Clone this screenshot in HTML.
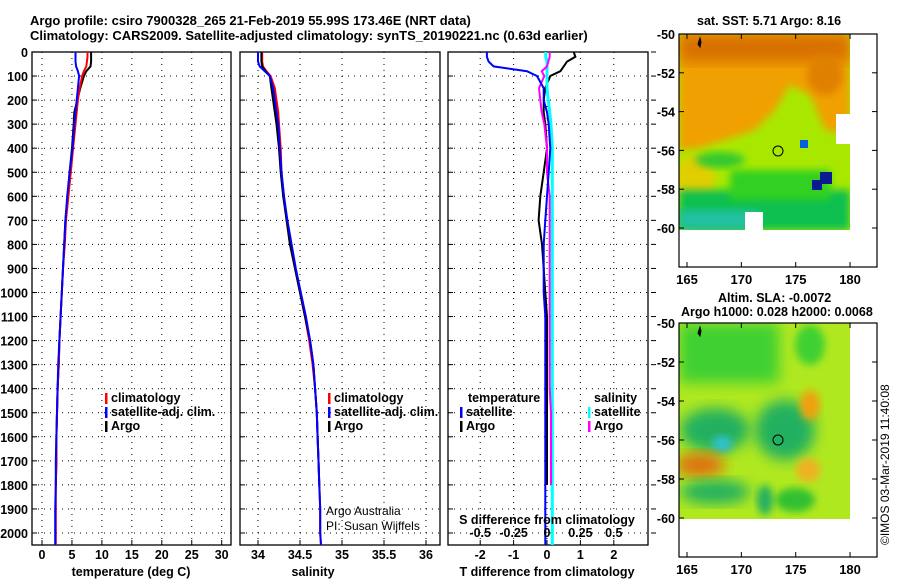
<!DOCTYPE html>
<html><head><meta charset="utf-8"><style>
body{margin:0;background:#fff;width:900px;height:580px;overflow:hidden;font-family:"Liberation Sans",sans-serif}
svg text{font-family:"Liberation Sans",sans-serif;font-weight:bold;font-size:12.5px;fill:#000}
</style></head><body>
<svg id="c" width="900" height="580" xmlns="http://www.w3.org/2000/svg">
<defs>
<filter id="bl" x="-20%" y="-20%" width="140%" height="140%"><feGaussianBlur stdDeviation="7"/></filter>
<filter id="bl2" x="-20%" y="-20%" width="140%" height="140%"><feGaussianBlur stdDeviation="4"/></filter>
<clipPath id="cm1"><rect x="679" y="34" width="171" height="196"/></clipPath>
<clipPath id="cm2"><rect x="679" y="323" width="171" height="196"/></clipPath>
</defs>
<text x="30" y="25" style="font-size:13px">Argo profile: csiro 7900328_265 21-Feb-2019 55.99S 173.46E (NRT data)</text>
<text x="30" y="40" style="font-size:13px">Climatology: CARS2009. Satellite-adjusted climatology: synTS_20190221.nc (0.63d earlier)</text>

<g>
<text x="697" y="25">sat. SST: 5.71 Argo: 8.16</text>
<g clip-path="url(#cm1)">
<rect x="679" y="34" width="171" height="196" fill="#a8e800"/>
<polygon points="679,34 850,34 850,135 825,130 810,95 790,85 775,110 755,130 725,140 700,148 679,150" fill="#f0a000" filter="url(#bl2)"/>
<rect x="679" y="34" width="171" height="28" fill="#d87000" filter="url(#bl)"/>
<ellipse cx="825" cy="75" rx="18" ry="20" fill="#e08000" filter="url(#bl2)"/>
<ellipse cx="695" cy="180" rx="20" ry="25" fill="#f0c800" filter="url(#bl2)" opacity="0.8"/>
<ellipse cx="720" cy="160" rx="25" ry="8" fill="#30c830" filter="url(#bl2)"/>
<rect x="679" y="190" width="171" height="40" fill="#10c050" filter="url(#bl2)"/>
<rect x="730" y="170" width="100" height="30" fill="#30d020" filter="url(#bl2)"/>
<rect x="679" y="210" width="80" height="20" fill="#20c0a0" filter="url(#bl2)"/>
<rect x="820" y="172" width="12" height="12" fill="#0a1a90"/>
<rect x="812" y="180" width="10" height="10" fill="#0a1a90"/>
<rect x="800" y="140" width="8" height="8" fill="#0060e0"/>
<rect x="836" y="114" width="14" height="30" fill="#fff"/>
<rect x="745" y="212" width="18" height="18" fill="#fff"/>
</g>
<circle cx="778" cy="151" r="5" fill="none" stroke="#000"/>
</g>

<g>
<text x="718" y="302">Altim. SLA: -0.0072</text>
<text x="681" y="316">Argo h1000: 0.028 h2000: 0.0068</text>
<g clip-path="url(#cm2)">
<rect x="679" y="323" width="171" height="196" fill="#b0e820"/>
<rect x="679" y="323" width="100" height="60" fill="#40d030" filter="url(#bl)"/>
<ellipse cx="715" cy="430" rx="35" ry="22" fill="#20b060" filter="url(#bl)"/>
<ellipse cx="785" cy="430" rx="30" ry="30" fill="#20b060" filter="url(#bl)"/>
<ellipse cx="722" cy="444" rx="10" ry="8" fill="#30c0d0" filter="url(#bl2)"/>
<ellipse cx="700" cy="465" rx="25" ry="12" fill="#e07010" filter="url(#bl)"/>
<ellipse cx="715" cy="492" rx="35" ry="12" fill="#20b060" filter="url(#bl)"/>
<ellipse cx="810" cy="405" rx="10" ry="15" fill="#f0a010" filter="url(#bl2)"/>
<ellipse cx="808" cy="470" rx="12" ry="12" fill="#f0b020" filter="url(#bl2)"/>
<ellipse cx="810" cy="345" rx="15" ry="20" fill="#40d030" filter="url(#bl2)"/>
<ellipse cx="795" cy="500" rx="20" ry="12" fill="#30c030" filter="url(#bl2)"/>
<ellipse cx="765" cy="500" rx="8" ry="15" fill="#20b060" filter="url(#bl2)"/>
</g>
<circle cx="778" cy="440" r="5" fill="none" stroke="#000"/>
<text transform="translate(889,545) rotate(-90)" style="font-size:12px;font-weight:normal">©IMOS 03-Mar-2019 11:40:08</text>
</g>
<g id="g"></g>
</svg>
<script>
const depths=[0,20,40,60,80,100,150,200,250,300,400,500,600,700,800,900,1000,1100,1200,1300,1400,1500,1600,1700,1800,1900,2000,2050];
const tempClim=[7.6,7.6,7.5,7.4,7.0,6.7,6.3,6.0,5.8,5.6,5.2,4.8,4.4,4.0,3.8,3.5,3.3,3.1,2.9,2.8,2.6,2.5,2.4,2.4,2.3,2.3,2.3,2.3];
const tempSat=[5.6,5.6,5.6,5.7,6.0,6.2,6.0,5.8,5.6,5.4,5.1,4.6,4.2,3.9,3.7,3.5,3.3,3.1,2.9,2.7,2.6,2.5,2.4,2.3,2.3,2.2,2.2,2.2];
const tempArgo=[8.2,8.2,8.2,8.1,7.4,7.0,6.4,5.9,5.4,5.3,5.0,4.6,4.3,3.9,3.7,3.5,3.3,3.1,2.9,2.8,2.6,2.5,2.4,2.4,2.3,null,null,null];
const salClim=[34.05,34.05,34.05,34.06,34.1,34.15,34.2,34.22,34.24,34.25,34.27,34.28,34.31,34.34,34.39,34.44,34.5,34.56,34.61,34.65,34.68,34.7,34.71,34.72,34.73,34.74,34.74,34.75];
const salSat=[34.0,34.0,34.0,34.02,34.08,34.14,34.18,34.2,34.22,34.24,34.26,34.28,34.31,34.35,34.4,34.45,34.51,34.57,34.62,34.66,34.68,34.7,34.71,34.72,34.73,34.74,34.74,34.75];
const salArgo=[34.04,34.04,34.04,34.05,34.09,34.14,34.16,34.18,34.2,34.22,34.25,34.27,34.3,34.34,34.38,34.44,34.5,34.56,34.62,34.66,34.68,34.7,34.71,34.72,34.73,null,null,null];
const tdSat=[-1.8,-1.8,-1.75,-1.6,-0.6,-0.3,-0.1,-0.1,0,0.05,0.1,0.05,0,-0.05,-0.1,-0.1,-0.1,-0.05,-0.05,-0.05,-0.05,-0.05,-0.05,-0.05,-0.05,-0.05,-0.05,-0.05];
const tdArgo=[0.8,0.85,0.6,0.5,0.4,0.1,-0.05,-0.1,-0.1,-0.05,0,-0.1,-0.2,-0.25,-0.15,-0.1,-0.05,0,0,0,0,0,0,0,0,null,null,null];
const sdSat=[-0.01,-0.01,0,0,0,0,0,0.01,0.02,0.03,0.04,0.04,0.04,0.04,0.04,0.04,0.04,0.04,0.04,0.04,0.04,0.04,0.04,0.04,0.04,0.04,0.04,0.04];
const sdArgo=[0.02,0.02,0.01,0.0,-0.04,-0.02,-0.06,-0.05,-0.04,-0.02,0,0,0.02,0.02,0.02,0.02,0.02,0.02,0.02,0.02,0.02,0.03,0.03,0.03,0.03,null,null,null];
const yTicks=[0,100,200,300,400,500,600,700,800,900,1000,1100,1200,1300,1400,1500,1600,1700,1800,1900,2000];
const tTicks=[0,5,10,15,20,25,30];
const sTicks=[34,34.5,35,35.5,36];
const tdTicks=[-2,-1,0,1,2];
const sdTicks=[-0.5,-0.25,0,0.25,0.5];
const sdTickLabels=['-0.5','-0.25','0','0.25','0.5'];

const NS='http://www.w3.org/2000/svg',G=document.getElementById('g');
function el(t,a,p){const e=document.createElementNS(NS,t);for(const k in a)e.setAttribute(k,a[k]);(p||G).appendChild(e);return e;}
const Y=d=>52+d*0.2405;
const panels=[
 {x0:32,x1:231,xs:v=>42+v*5.99,name:'temperature'},
 {x0:240,x1:440,xs:v=>258+(v-34)*84,name:'salinity'},
 {x0:448,x1:648,xs:v=>547+v*33.4,name:'difference'}];
const sdx=v=>547+v*133.6;
function line(arr,xs,col,name,w){
  let d='',pen=false;
  arr.forEach((v,i)=>{if(v===null){pen=false;return;}d+=(pen?'L':'M')+xs(v).toFixed(1)+','+Y(depths[i]).toFixed(1);pen=true;});
  const p=el('path',{d:d,fill:'none',stroke:col,'stroke-width':w||2});
  
  
}
panels.forEach((P,k)=>{
  const g=el('g',{});
  
  
  yTicks.forEach(t=>{
    const l=el('line',{x1:P.x0,x2:P.x1,y1:Y(t),y2:Y(t),stroke:'#000','stroke-dasharray':'1,5'},g);
    
    
    el('line',{x1:P.x0,x2:P.x0+5,y1:Y(t),y2:Y(t),stroke:'#000'},g);
    if(k===0){const tx=el('text',{x:28,y:Y(t)+5,'text-anchor':'end'},g);tx.textContent=t;
      
      }
  });
  const xt=k===0?tTicks:k===1?sTicks:tdTicks;
  xt.forEach(t=>{
    const x=P.xs(t);
    const l=el('line',{x1:x,x2:x,y1:52,y2:545,stroke:'#000','stroke-dasharray':'1,5'},g);
    
    
    el('line',{x1:x,x2:x,y1:545,y2:540,stroke:'#000'},g);
    const tx=el('text',{x:x,y:559,'text-anchor':'middle'},g);tx.textContent=t;
    
    
  });
  if(k===2){yTicks.forEach(t=>el('line',{x1:P.x1+3,x2:P.x1+8,y1:Y(t),y2:Y(t),stroke:'#000'},g));}
  const r=el('rect',{x:P.x0,y:52,width:P.x1-P.x0,height:493,fill:'none',stroke:'#000','stroke-width':1.3},g);
  
  
});
const xl=[['temperature (deg C)',131],['salinity',313],['T difference from climatology',547]];
xl.forEach(a=>{const t=el('text',{x:a[1],y:576,'text-anchor':'middle'});t.textContent=a[0];
  
  });
const P0=panels[0].xs,P1=panels[1].xs,P2=panels[2].xs;
line(tempArgo,P0,'#000','temp-argo-line');
line(tempClim,P0,'#f00','temp-clim-line');
line(tempSat,P0,'#00f','temp-sat-line');
line(salClim,P1,'#f00','sal-clim-line');
line(salArgo,P1,'#000','sal-argo-line');
line(salSat,P1,'#00f','sal-sat-line');
line(tdArgo,P2,'#000','tdiff-argo-line');
line(sdSat,sdx,'#0ff','sdiff-sat-line',3);
line(sdArgo,sdx,'#f0f','sdiff-argo-line');
line(tdSat,P2,'#00f','tdiff-sat-line');
sdTicks.forEach((v,i)=>{const t=el('text',{x:sdx(v),y:537,'text-anchor':'middle'});t.textContent=sdTickLabels[i];
  
  });
const st=el('text',{x:547,y:524,'text-anchor':'middle'});st.textContent='S difference from climatology';


function leg(x,y,col,txt,name){
  el('rect',{x:x,y:y-9,width:2.5,height:11,fill:col});
  const t=el('text',{x:x+6,y:y});t.textContent=txt;
  
  
}
leg(105,402,'#f00','climatology','legend-temp-clim');
leg(105,416,'#00f','satellite-adj. clim.','legend-temp-sat');
leg(105,430,'#000','Argo','legend-temp-argo');
leg(328,402,'#f00','climatology','legend-sal-clim');
leg(328,416,'#00f','satellite-adj. clim.','legend-sal-sat');
leg(328,430,'#000','Argo','legend-sal-argo');
const lt=el('text',{x:468,y:402});lt.textContent='temperature';


leg(460,416,'#00f','satellite','legend-tdiff-sat');
leg(460,430,'#000','Argo','legend-tdiff-argo');
const ls=el('text',{x:594,y:402});ls.textContent='salinity';


leg(588,416,'#0ff','satellite','legend-sdiff-sat');
leg(588,430,'#f0f','Argo','legend-sdiff-argo');
[['Argo Australia',515],['PI: Susan Wijffels',530]].forEach(a=>{const t=el('text',{x:326,y:a[1],style:'font-weight:normal;font-size:12px'});t.textContent=a[0];
  
  });
const latT=[-50,-52,-54,-56,-58,-60],lonT=[165,170,175,180];
[[34,267,19.4],[323,557,19.5]].forEach((m,i)=>{
  const f=el('rect',{x:679,y:m[0],width:198,height:m[1]-m[0],fill:'none',stroke:'#000','stroke-width':1.2});
  
  
  latT.forEach(l=>{const y=m[0]+(-50-l)*m[2];el('line',{x1:679,x2:684,y1:y,y2:y,stroke:'#000'});el('line',{x1:872,x2:877,y1:y,y2:y,stroke:'#000'});
    const t=el('text',{x:675,y:y+5,'text-anchor':'end'});t.textContent=l;
    
    });
  lonT.forEach(l=>{const x=687+(l-165)*10.87;el('line',{x1:x,x2:x,y1:m[1],y2:m[1]-5,stroke:'#000'});el('line',{x1:x,x2:x,y1:m[0],y2:m[0]+5,stroke:'#000'});
    const t=el('text',{x:x,y:m[1]+17,'text-anchor':'middle',style:'font-size:13px'});t.textContent=l;
    
    });
  el('path',{d:`M698,${m[0]+10} l2,-6 l1,4 l-1,5 z`,fill:'#000',stroke:'#000'});
});
</script>
</body></html>
